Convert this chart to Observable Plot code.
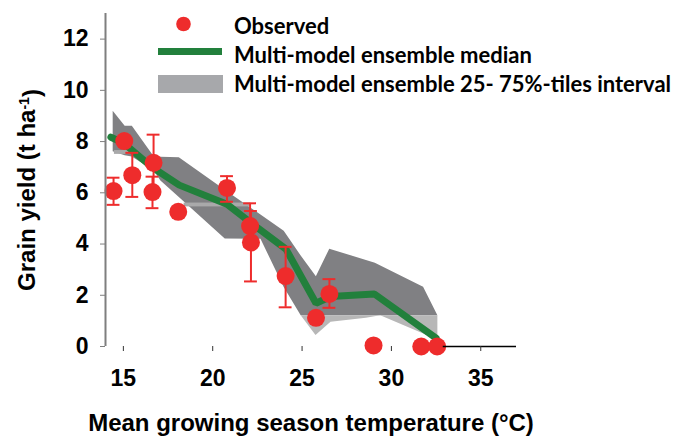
<!DOCTYPE html>
<html><head><meta charset="utf-8">
<script src="https://cdn.jsdelivr.net/npm/d3@7"></script>
<script src="https://cdn.jsdelivr.net/npm/@observablehq/plot@0.6"></script>
<style>
body{margin:0;background:#fff;}
#chart{position:relative;width:673px;height:439px;}
</style></head><body><div id="chart"></div>
<script>
// Observed points
const obsTemp  = [14.45, 15.05, 15.5, 16.69, 16.63, 18.07, 20.8, 22.09, 22.14, 24.08, 25.78, 26.53, 29.0, 31.67, 32.56];
const obsYield = [6.07, 8.02, 6.69, 7.17, 6.03, 5.26, 6.19, 4.70, 4.06, 2.75, 1.12, 2.05, 0.04, 0.0, 0.0];
const errLow   = [5.53, null, 5.84, 6.10, 5.40, null, 5.65, 3.90, 2.54, 1.53, null, 1.51, null, null, null];
const errHigh  = [6.59, null, 7.56, 8.27, 6.63, null, 6.65, 5.59, 5.29, 3.89, null, 2.63, null, null, null];

// Multi-model ensemble median
const medTemp  = [14.3, 15.0, 16.6, 18.13, 20.8, 22.1, 24.1, 25.78, 26.6, 29.05, 32.5];
const medYield = [8.17, 7.95, 7.0, 6.3, 5.55, 4.85, 3.8, 1.69, 1.95, 2.05, 0.33];

// Multi-model ensemble 25-75% interval (dark band)
const bandTemp = [14.43, 15.1, 15.5, 16.73, 17.1, 18.13, 20.7, 22.7, 24.0, 24.95, 25.8, 26.55, 29.1, 31.8, 32.6];
const bandHigh = [9.18, 8.6, 8.6, 7.4, 7.39, 7.37, 6.1, 5.13, 4.5, 3.53, 2.72, 3.8, 3.25, 2.31, 1.2];
const bandLow  = [7.6, 7.45, 7.4, 6.85, 6.46, 5.82, 4.2, 4.19, 2.3, 1.2, 1.2, 1.2, 1.2, 1.2, 1.2];

// lighter part of the interval below the dark band
const lightTemp = [24.95, 25.78, 26.62, 28.6, 29.4, 32.6];
const lightLow  = [1.2, 0.43, 0.95, 1.1, 1.2, 0.25];
const darkFloor = 1.2;

// light streaks inside the band
const stripX1 = [14.5, 18.4];
const stripX2 = [15.6, 22.1];
const stripY1 = [7.5, 5.45];
const stripY2 = [7.65, 5.6];

const xTicks = [15, 20, 25, 30, 35];
const yTicks = [0, 2, 4, 6, 8, 10, 12];
const xLabel = "Mean growing season temperature (°C)";
const yLabelMain = "Grain yield (t ha";
const yLabelSup = "-1";
const yLabelEnd = ")";
const legendLabels = ["Observed", "Multi-model ensemble median", "Multi-model ensemble 25- 75%-tiles interval"];

const RED = "#ee2c2c", GREEN = "#22803c", DARK = "#808083", LIGHT = "#b7b7b7";
const capHalf = 0.36;
const axisLineStart = 32.9;

const obs = obsTemp.map((t, i) => ({t, y: obsYield[i], lo: errLow[i], hi: errHigh[i]}));
const bars = obs.filter(d => d.lo != null);
const band = bandTemp.map((t, i) => ({t, lo: bandLow[i], hi: bandHigh[i]}));
const light = lightTemp.map((t, i) => ({t, lo: lightLow[i]}));
const med = medTemp.map((t, i) => ({t, y: medYield[i]}));
const strips = stripX1.map((x1, i) => ({x1, x2: stripX2[i], y1: stripY1[i], y2: stripY2[i]}));

const plot = Plot.plot({
  width: 673, height: 439,
  marginLeft: 105, marginRight: 157, marginTop: 13, marginBottom: 93,
  x: {domain: [14, 37]},
  y: {domain: [0, 13]},
  style: {fontFamily: "'Liberation Sans', Arial, sans-serif", fontWeight: "bold", fontSize: "23px", color: "#000", background: "#fff"},
  marks: [
    Plot.areaY(band, {x: "t", y1: "lo", y2: "hi", fill: DARK}),
    Plot.areaY(light, {x: "t", y1: "lo", y2: () => darkFloor, fill: LIGHT}),
    Plot.rect(strips, {x1: "x1", x2: "x2", y1: "y1", y2: "y2", fill: "#a9a9aa"}),
    Plot.line(med, {x: "t", y: "y", stroke: GREEN, strokeWidth: 7, strokeLinejoin: "miter"}),
    Plot.ruleX(bars, {x: "t", y1: "lo", y2: "hi", stroke: RED, strokeWidth: 2}),
    Plot.ruleY(bars, {y: "lo", x1: d => d.t - capHalf, x2: d => d.t + capHalf, stroke: RED, strokeWidth: 2}),
    Plot.ruleY(bars, {y: "hi", x1: d => d.t - capHalf, x2: d => d.t + capHalf, stroke: RED, strokeWidth: 2}),
    Plot.dot(obs, {x: "t", y: "y", r: 9, fill: RED}),
    Plot.ruleX([14], {stroke: "#7f7f7f", strokeWidth: 2}),
    Plot.ruleY([0], {x1: axisLineStart, x2: 37, stroke: "#000", strokeWidth: 1.5}),
    Plot.axisY({ticks: yTicks, tickSize: 5, tickPadding: 12, label: null, stroke: "#7f7f7f", fill: "#000"}),
    Plot.axisX({ticks: xTicks, tickSize: 5, tickPadding: 18, label: null, stroke: "#333", fill: "#000"}),
    Plot.text([xLabel], {frameAnchor: "bottom", textAnchor: "middle", lineAnchor: "middle", dy: 77, fontSize: 24, fill: "#000"}),
    Plot.text([yLabelMain + yLabelSup + yLabelEnd], {frameAnchor: "left", textAnchor: "middle", lineAnchor: "middle", rotate: -90, dx: -78, dy: 10, fontSize: 24, fill: "#000"})
  ]
});

// superscript in y label
const yl = Array.from(plot.querySelectorAll("text")).find(t => t.textContent === yLabelMain + yLabelSup + yLabelEnd);
if (yl) {
  yl.textContent = "";
  const s = d3.select(yl);
  s.append("tspan").text(yLabelMain);
  s.append("tspan").attr("dy", "-0.45em").attr("font-size", "14px").text(yLabelSup);
  s.append("tspan").attr("dy", "0.45em").text(yLabelEnd);
}

// legend
const svg = d3.select(plot);
const lg = svg.append("g").attr("font-family", "Lato, 'Open Sans', sans-serif").attr("font-weight", "bold").attr("font-size", "22px").attr("fill", "#000").attr("text-anchor", "start");
lg.append("circle").attr("cx", 183.5).attr("cy", 24).attr("r", 7.3).attr("fill", RED);
lg.append("rect").attr("x", 158).attr("y", 48).attr("width", 64).attr("height", 7).attr("fill", GREEN);
lg.append("rect").attr("x", 158).attr("y", 75).attr("width", 65).attr("height", 18).attr("fill", "#a7a8ab");
[26, 55, 84].forEach((cy, i) => {
  lg.append("text").attr("x", 234).attr("y", cy).attr("dy", "0.35em").text(legendLabels[i]);
});

document.getElementById("chart").appendChild(plot);
</script></body></html>
